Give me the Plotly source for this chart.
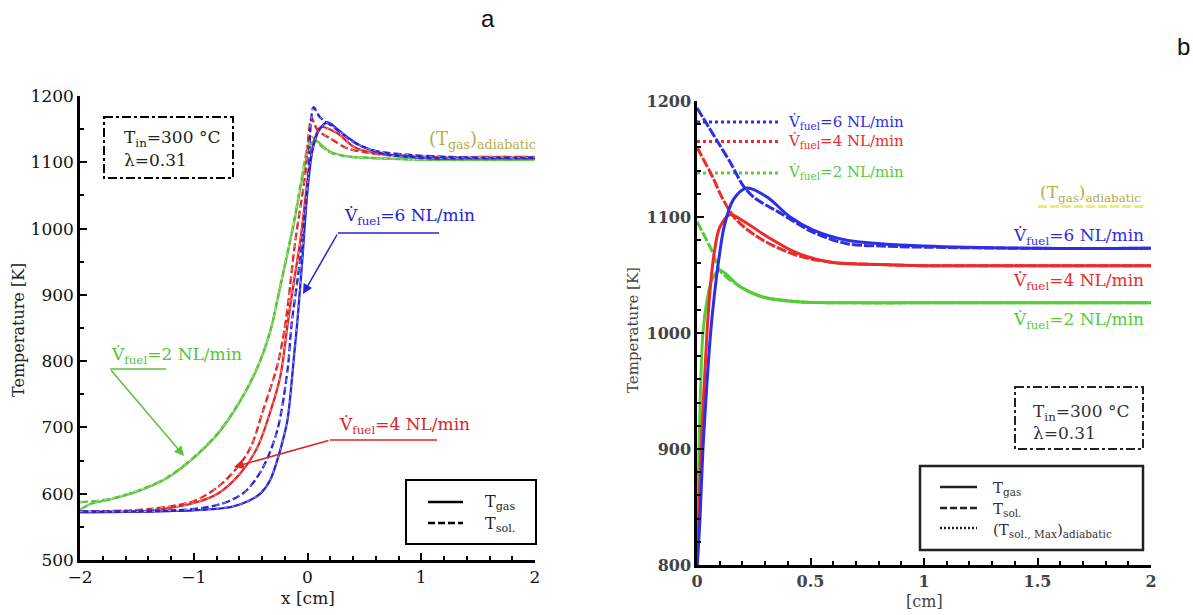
import plotly.graph_objects as go

W, H = 1193, 615

# ---------------- Panel a data (x in cm, T in K) ----------------
a_gas6_x = [-2, -1.5, -1.2, -1.0, -0.8, -0.65, -0.52, -0.41, -0.33, -0.265, -0.21, -0.176, -0.145, -0.12, -0.088, -0.044, 0.0, 0.044, 0.10, 0.176, 0.25, 0.35, 0.49, 0.73, 1.08, 1.5, 2.0]
a_gas6_T = [573, 573, 574, 575, 577, 581, 589, 601, 620, 651, 685, 711, 758, 805, 862, 957, 1058, 1118, 1148, 1160, 1152, 1138, 1123, 1111, 1106, 1106, 1106]
a_sol6_x = [-2, -1.5, -1.0, -0.79, -0.65, -0.53, -0.39, -0.265, -0.176, -0.14, -0.09, -0.044, 0.009, 0.03, 0.053, 0.11, 0.23, 0.41, 0.58, 0.91, 1.26, 1.6, 2.0]
a_sol6_T = [573, 573, 577, 583, 592, 606, 640, 696, 786, 855, 920, 983, 1084, 1160, 1183, 1168, 1153, 1130, 1118, 1111, 1108, 1107, 1107]
a_gas4_x = [-2, -1.38, -1.0, -0.79, -0.59, -0.44, -0.33, -0.24, -0.17, -0.115, -0.062, 0.009, 0.053, 0.115, 0.26, 0.41, 0.58, 1.0, 1.5, 2.0]
a_gas4_T = [572, 575, 586, 600, 631, 670, 722, 776, 862, 925, 983, 1084, 1129, 1153, 1144, 1123, 1114, 1109, 1107, 1107]
a_sol4_x = [-2, -1.38, -1.0, -0.79, -0.62, -0.5, -0.39, -0.26, -0.19, -0.106, -0.018, 0.015, 0.035, 0.09, 0.2, 0.35, 0.55, 0.82, 1.3, 2.0]
a_sol4_T = [573, 577, 589, 610, 639, 670, 726, 797, 862, 983, 1084, 1150, 1167, 1148, 1136, 1121, 1114, 1109, 1107, 1107]
a_gas2_x = [-2, -1.9, -1.74, -1.47, -1.23, -1.0, -0.79, -0.59, -0.44, -0.33, -0.24, -0.12, -0.03, 0.02, 0.07, 0.13, 0.2, 0.35, 0.64, 1.0, 2.0]
a_gas2_T = [576, 585, 591, 605, 624, 654, 690, 740, 790, 843, 912, 1008, 1090, 1125, 1133, 1125, 1116, 1109, 1106, 1104, 1104]
a_sol2_x = [-2, -1.74, -1.47, -1.23, -1.0, -0.79, -0.59, -0.44, -0.33, -0.24, -0.12, -0.035, 0.01, 0.04, 0.1, 0.2, 0.35, 0.64, 1.0, 2.0]
a_sol2_T = [587, 592, 606, 625, 655, 691, 741, 791, 844, 913, 1010, 1092, 1130, 1138, 1128, 1115, 1109, 1106, 1104, 1104]
a_adiab_x = [1.5, 2.0]
a_adiab_T = [1108, 1108]

# ---------------- Panel b data ----------------
b_gas6_x = [0.0, 0.013, 0.026, 0.044, 0.06, 0.075, 0.095, 0.12, 0.16, 0.22, 0.31, 0.41, 0.51, 0.66, 0.81, 1.0, 1.5, 2.0]
b_gas6_T = [795, 839, 899, 957, 1000, 1030, 1062, 1092, 1115, 1125, 1117, 1100, 1089, 1080, 1077, 1075, 1073, 1073]
b_sol6_x = [0.0, 0.05, 0.1, 0.15, 0.2, 0.25, 0.37, 0.51, 0.66, 0.81, 1.0, 1.5, 2.0]
b_sol6_T = [1194, 1178, 1162, 1146, 1128, 1117, 1103, 1087, 1077, 1075, 1074, 1073, 1073]
b_gas4_x = [0.0, 0.018, 0.044, 0.058, 0.075, 0.1, 0.145, 0.2, 0.31, 0.44, 0.59, 0.8, 1.0, 1.5, 2.0]
b_gas4_T = [795, 899, 1000, 1038, 1068, 1091, 1102, 1097, 1083, 1069, 1061, 1059, 1058, 1058, 1058]
b_sol4_x = [0.0, 0.07, 0.115, 0.176, 0.29, 0.44, 0.59, 0.81, 1.0, 1.5, 2.0]
b_sol4_T = [1160, 1134, 1115, 1097, 1080, 1067, 1061, 1059, 1058, 1058, 1058]
b_gas2_x = [0.0, 0.009, 0.026, 0.044, 0.066, 0.1, 0.19, 0.29, 0.44, 0.7, 1.0, 2.0]
b_gas2_T = [795, 899, 1000, 1028, 1046, 1054, 1040, 1031, 1027, 1026, 1026, 1026]
b_sol2_x = [0.0, 0.07, 0.1, 0.19, 0.29, 0.44, 0.7, 1.0, 2.0]
b_sol2_T = [1096, 1069, 1054, 1040, 1031, 1027, 1026, 1026, 1026]
b_max_x = [0.0, 0.366]
b_max6_T = [1182, 1182]
b_max4_T = [1165, 1165]
b_max2_T = [1138, 1138]
b_adiab_x = [1.502, 1.965]
b_adiab_T = [1109, 1109]

# colours
BLUE_A, RED_A, GREEN_A = "#2323d8", "#e02424", "#5cc23c"
BLUE_B, RED_B, GREEN_B = "#2e2ee6", "#ee2a2a", "#55cc38"
YEL = "#ecec3a"
OLIVE = "#b5ad45"
SERIF = "DejaVu Serif"

fig = go.Figure()

def line(x, y, color, dash, xa, ya, width=2.3, overlay=False):
    fig.add_trace(go.Scatter(x=x, y=y, mode="lines", xaxis=xa, yaxis=ya,
                             line=dict(color=color, width=width, dash=dash, shape="spline", smoothing=0.9),
                             showlegend=False, hoverinfo="skip"))
    if overlay:
        fig.add_trace(go.Scatter(x=x, y=y, mode="lines", xaxis=xa, yaxis=ya,
                                 line=dict(color="rgba(255,255,255,0.75)", width=0.7, dash="3px,5px",
                                           shape="spline", smoothing=0.9),
                                 showlegend=False, hoverinfo="skip"))

# panel a
line(a_adiab_x, a_adiab_T, YEL, "14px,4px", "x", "y", width=4)
line(a_gas2_x, a_gas2_T, GREEN_A, "solid", "x", "y", overlay=True)
line(a_sol2_x, a_sol2_T, GREEN_A, "8px,3px", "x", "y", overlay=True)
line(a_gas4_x, a_gas4_T, RED_A, "solid", "x", "y", overlay=True)
line(a_sol4_x, a_sol4_T, RED_A, "8px,3px", "x", "y", overlay=True)
line(a_gas6_x, a_gas6_T, BLUE_A, "solid", "x", "y", overlay=True)
line(a_sol6_x, a_sol6_T, BLUE_A, "8px,3px", "x", "y", overlay=True)

# panel b
line(b_adiab_x, b_adiab_T, "#eeee66", "9px,3px", "x2", "y2", width=3)
line(b_max_x, b_max6_T, BLUE_B, "dot", "x2", "y2", width=3)
line(b_max_x, b_max4_T, RED_B, "dot", "x2", "y2", width=3)
line(b_max_x, b_max2_T, GREEN_B, "dot", "x2", "y2", width=3)
line(b_gas2_x, b_gas2_T, GREEN_B, "solid", "x2", "y2", width=3)
line(b_sol2_x, b_sol2_T, GREEN_B, "10px,2px", "x2", "y2", width=3)
line(b_gas4_x, b_gas4_T, RED_B, "solid", "x2", "y2", width=3)
line(b_sol4_x, b_sol4_T, RED_B, "10px,2px", "x2", "y2", width=3)
line(b_gas6_x, b_gas6_T, BLUE_B, "solid", "x2", "y2", width=3)
line(b_sol6_x, b_sol6_T, BLUE_B, "10px,2px", "x2", "y2", width=3)

def P(px, py):
    return px / W, 1 - py / H

def ax_common(tickfont, lw=2.5):
    return dict(showline=True, linecolor="black", linewidth=lw, mirror=False,
                ticks="inside", ticklen=7, tickwidth=2, tickcolor="black",
                showgrid=False, zeroline=False, tickfont=tickfont, automargin=False)

fa = dict(family=SERIF, size=17, color="#111")
fb = dict(family=SERIF, size=16, color="#444", weight="bold")

fig.update_layout(
    width=W, height=H, margin=dict(l=0, r=0, t=0, b=0, pad=0, autoexpand=False),
    paper_bgcolor="white", plot_bgcolor="white",
    xaxis=dict(domain=[80 / W, 535 / W], range=[-2, 2], dtick=1, anchor="y",
               minor=dict(dtick=0.2, ticks="inside", ticklen=4, tickwidth=2, tickcolor="black"),
               tickvals=[-2, -1, 0, 1, 2], ticktext=["\u22122", "\u22121", "0", "1", "2"],
               **ax_common(fa)),
    yaxis=dict(domain=[1 - 560 / H, 1 - 96 / H], range=[500, 1200], dtick=100, anchor="x",
               minor=dict(dtick=50, ticks="inside", ticklen=4, tickwidth=2, tickcolor="black"),
               **ax_common(fa)),
    xaxis2=dict(domain=[697 / W, 1151 / W], range=[0, 2], dtick=0.5, anchor="y2",
                tickvals=[0, 0.5, 1, 1.5, 2], ticktext=["0", "0.5", "1", "1.5", "2"],
                minor=dict(dtick=0.1, ticks="inside", ticklen=4, tickwidth=2, tickcolor="black"),
                **ax_common(fb)),
    yaxis2=dict(domain=[1 - 565 / H, 1 - 101 / H], range=[800, 1200], dtick=100, anchor="x2",
                minor=dict(dtick=20, ticks="inside", ticklen=4, tickwidth=2, tickcolor="black"),
                **ax_common(fb)),
)

shapes = []
annots = []

def seg(p1, p2, color="black", width=1.5, dash="solid"):
    x0, y0 = P(*p1); x1, y1 = P(*p2)
    shapes.append(dict(type="line", xref="paper", yref="paper", x0=x0, y0=y0, x1=x1, y1=y1,
                       line=dict(color=color, width=width, dash=dash)))

def rect(p1, p2, dash="solid", width=2, color="black"):
    x0, y0 = P(*p1); x1, y1 = P(*p2)
    shapes.append(dict(type="rect", xref="paper", yref="paper", x0=x0, y0=y0, x1=x1, y1=y1,
                       line=dict(color=color, width=width, dash=dash), fillcolor="rgba(0,0,0,0)"))

def text(px, py, s, size, color, xanchor="left", family=SERIF, angle=0, weight="normal"):
    x, y = P(px, py)
    annots.append(dict(xref="paper", yref="paper", x=x, y=y, text=s, showarrow=False,
                       xanchor=xanchor, yanchor="middle", textangle=angle,
                       font=dict(family=family, size=size, color=color, weight=weight)))

def arrow(tip, tail, color):
    x, y = P(*tip)
    annots.append(dict(xref="paper", yref="paper", x=x, y=y, text="", showarrow=True,
                       ax=tail[0] - tip[0], ay=tail[1] - tip[1], arrowhead=2, arrowsize=1.3,
                       arrowwidth=1.5, arrowcolor=color))

VD = "V\u0307<sub>fuel</sub>"

# ---- panel a decorations ----
text(488, 18, "a", 24, "#111", xanchor="center", family="Liberation Sans")
text(18, 330, "Temperature [K]", 16, "#222", xanchor="center", angle=-90)
text(308, 598, "x [cm]", 17, "#222", xanchor="center")

rect((104, 117), (233, 178), dash="dashdot", width=2)
text(122, 138, "T<sub>in</sub>=300 °C", 17, "#222")
text(122, 160, "λ=0.31", 17, "#222")

text(427, 140, "(T<sub>gas</sub>)<sub>adiabatic</sub>", 18, OLIVE)

text(342, 217, VD + "=6 NL/min", 17, BLUE_A)
seg((338, 233), (439, 233), BLUE_A)
arrow((303, 294), (338, 233), BLUE_A)

text(109, 355, VD + "=2 NL/min", 17, GREEN_A)
seg((110, 369), (166, 369), GREEN_A)
arrow((184, 456), (110, 369), GREEN_A)

text(337, 425, VD + "=4 NL/min", 17, RED_A)
seg((330, 440), (437, 440), RED_A)
arrow((234, 467), (330, 440), RED_A)

rect((406, 480), (536, 544), width=2)
seg((428, 502), (463, 502), "black", 2.5)
seg((428, 523), (463, 523), "black", 2.5, dash="7px,3px")
text(483, 502, "T<sub>gas</sub>", 16, "#222")
text(483, 524, "T<sub>sol.</sub>", 16, "#222")

# ---- panel b decorations ----
text(1183, 47, "b", 24, "#111", xanchor="center", family="Liberation Sans")
text(633, 330, "Temperature [K]", 15, "#444", xanchor="center", angle=-90)
text(924, 601, "[cm]", 16, "#444", xanchor="center")

text(786, 122, VD + "=6 NL/min", 15, BLUE_B)
text(786, 141, VD + "=4 NL/min", 15, RED_B)
text(786, 172, VD + "=2 NL/min", 15, GREEN_B)

text(1143, 193, "(T<sub>gas</sub>)<sub>adiabatic</sub>", 17, OLIVE, xanchor="right")
text(1146, 236, VD + "=6 NL/min", 17, BLUE_B, xanchor="right")
text(1146, 281, VD + "=4 NL/min", 17, RED_B, xanchor="right")
text(1146, 320, VD + "=2 NL/min", 17, GREEN_B, xanchor="right")

rect((1015, 387), (1143, 449), dash="dashdot", width=2, color="#222")
text(1031, 412, "T<sub>in</sub>=300 °C", 17, "#333")
text(1031, 433, "λ=0.31", 17, "#333")

rect((920, 466), (1143, 550), width=2.5, color="#222")
seg((940, 487), (977, 487), "#222", 2.5)
seg((940, 508), (977, 508), "#222", 2.5, dash="7px,3px")
seg((940, 528), (977, 528), "#222", 2.5, dash="2px,2px")
text(991, 488, "T<sub>gas</sub>", 15, "#333")
text(991, 509, "T<sub>sol.</sub>", 15, "#333")
text(991, 530, "(T<sub>sol., Max</sub>)<sub>adiabatic</sub>", 15, "#333")

fig.update_layout(shapes=shapes, annotations=annots)
fig.write_html("out.html")
